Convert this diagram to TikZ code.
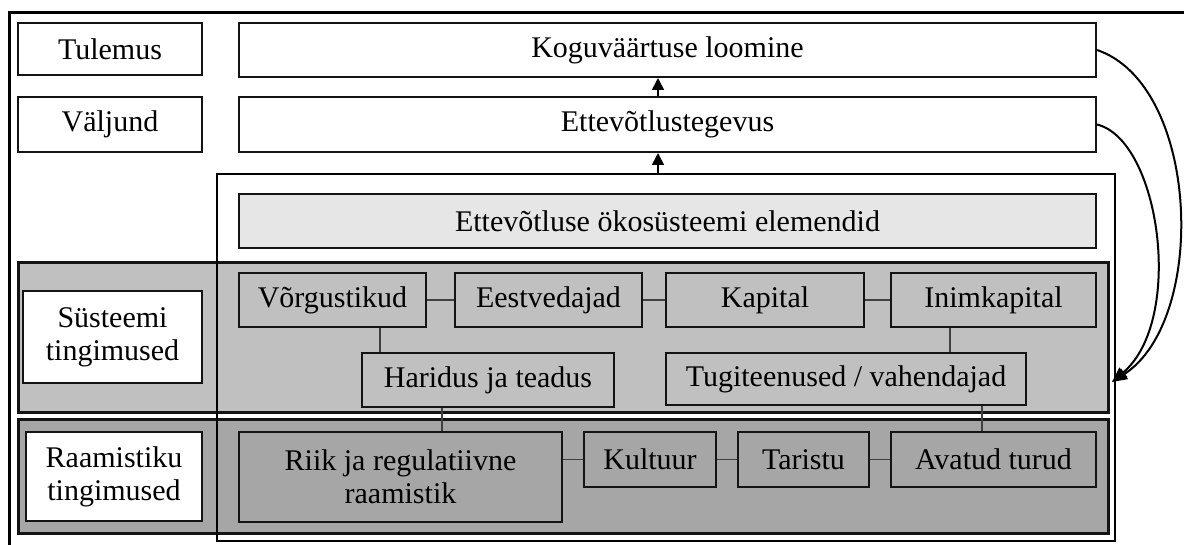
\documentclass[tikz,border=0pt]{standalone}
\usepackage{fontspec}
\setmainfont{Liberation Serif}
\usetikzlibrary{arrows.meta}
\definecolor{bandsys}{HTML}{C0C0C0}
\definecolor{bandfrm}{HTML}{A6A6A6}
\definecolor{elemfill}{HTML}{E6E6E6}
\definecolor{edge}{HTML}{141414}
\tikzset{
  box/.style={draw=edge, line width=2pt, rectangle, inner sep=0pt, align=center,
              font=\fontsize{30}{33}\selectfont},
  whitebox/.style={box, fill=white},
  elembox/.style={box, fill=elemfill},
  sysbox/.style={box, fill=bandsys},
  frmbox/.style={box, fill=bandfrm},
  band/.style={draw=edge, line width=3pt},
  link/.style={draw=black!75, line width=1.6pt},
  uparrow/.style={line width=1.6pt, -{Triangle[width=12pt,length=12pt]}},
  feedback/.style={line width=2pt, -{Triangle[width=12pt,length=15pt]}}
}
\begin{document}
\begin{tikzpicture}[x=1pt,y=-1pt]
\useasboundingbox (0,0) rectangle (1184,545);

% outer frame (open to the right and bottom)
\draw[line width=3pt] (9,545) -- (9,13) -- (1184,13);

% level labels and top result boxes
\node[whitebox, minimum width=184pt, minimum height=52pt] (tulemus) at (110,49) {Tulemus};
\node[whitebox, minimum width=184pt, minimum height=55pt] (valjund) at (110,124.5) {Väljund};
\node[whitebox, minimum width=857pt, minimum height=54pt] (kogu) at (667.5,50) {Koguväärtuse loomine};
\node[whitebox, minimum width=857pt, minimum height=55pt] (ettev) at (667.5,124.5) {Ettevõtlustegevus};

% condition bands
\draw[band, fill=bandsys] (18,263) rectangle (1108,412);
\draw[band, fill=bandfrm] (18,419) rectangle (1108,533);

% ecosystem frame drawn over the bands
\node[draw=black, line width=2.6pt, rectangle, inner sep=0pt,
      minimum width=898pt, minimum height=367pt] (eco) at (666,357.5) {};

\node[elembox, minimum width=857pt, minimum height=54pt] (elem) at (667.5,221) {Ettevõtluse ökosüsteemi elemendid};

% band labels
\node[whitebox, minimum width=179pt, minimum height=92pt] (syslab) at (112.5,337) {Süsteemi\\tingimused};
\node[whitebox, minimum width=176pt, minimum height=89pt] (frmlab) at (114,476.5) {Raamistiku\\tingimused};

% systemic conditions
\node[sysbox, minimum width=187pt, minimum height=54pt] (vorg) at (332.5,300) {Võrgustikud};
\node[sysbox, minimum width=187pt, minimum height=54pt] (eest) at (548.5,300) {Eestvedajad};
\node[sysbox, minimum width=198pt, minimum height=54pt] (kap) at (765,300) {Kapital};
\node[sysbox, minimum width=205pt, minimum height=54pt] (inim) at (993.5,300) {Inimkapital};
\node[sysbox, minimum width=252pt, minimum height=54pt] (harid) at (488,380) {Haridus ja teadus};
\node[sysbox, minimum width=360pt, minimum height=52pt] (tugi) at (846,379) {Tugiteenused / vahendajad};

% framework conditions
\node[frmbox, minimum width=323pt, minimum height=90pt] (riik) at (400.5,477) {Riik ja regulatiivne\\raamistik};
\node[frmbox, minimum width=132pt, minimum height=55pt] (kult) at (650,459.5) {Kultuur};
\node[frmbox, minimum width=131pt, minimum height=55pt] (tar) at (803.5,459.5) {Taristu};
\node[frmbox, minimum width=205pt, minimum height=55pt] (avat) at (993.5,459.5) {Avatud turud};

% links between elements
\draw[link] (vorg.east) -- (eest.west);
\draw[link] (eest.east) -- (kap.west);
\draw[link] (kap.east) -- (inim.west);
\draw[link] ([xshift=19pt]harid.north west) -- ([xshift=19pt]harid.north west |- vorg.south);
\draw[link] ([xshift=-77pt]tugi.north east) -- ([xshift=-77pt]tugi.north east |- inim.south);
\draw[link] ([xshift=81pt]harid.south west) -- ([xshift=81pt]harid.south west |- riik.north);
\draw[link] ([xshift=-45pt]tugi.south east) -- ([xshift=-45pt]tugi.south east |- avat.north);
\draw[link] (kult.west) -- (kult.west -| riik.east);
\draw[link] (kult.east) -- (tar.west);
\draw[link] (tar.east) -- (avat.west);

% upward flow
\draw[uparrow] ([xshift=-9.5pt]eco.north -| ettev.south) -- ([xshift=-9.5pt]ettev.south);
\draw[uparrow] ([xshift=-9.5pt]ettev.north) -- ([xshift=-9.5pt]kogu.south);

% feedback loops into the conditions
\coordinate (fb) at (1112,382);
\draw[feedback] (kogu.east) .. controls (1200,85) and (1208,320) .. (fb);
\draw[feedback] (ettev.east) .. controls (1160,140) and (1185,320) .. (fb);
\end{tikzpicture}
\end{document}
